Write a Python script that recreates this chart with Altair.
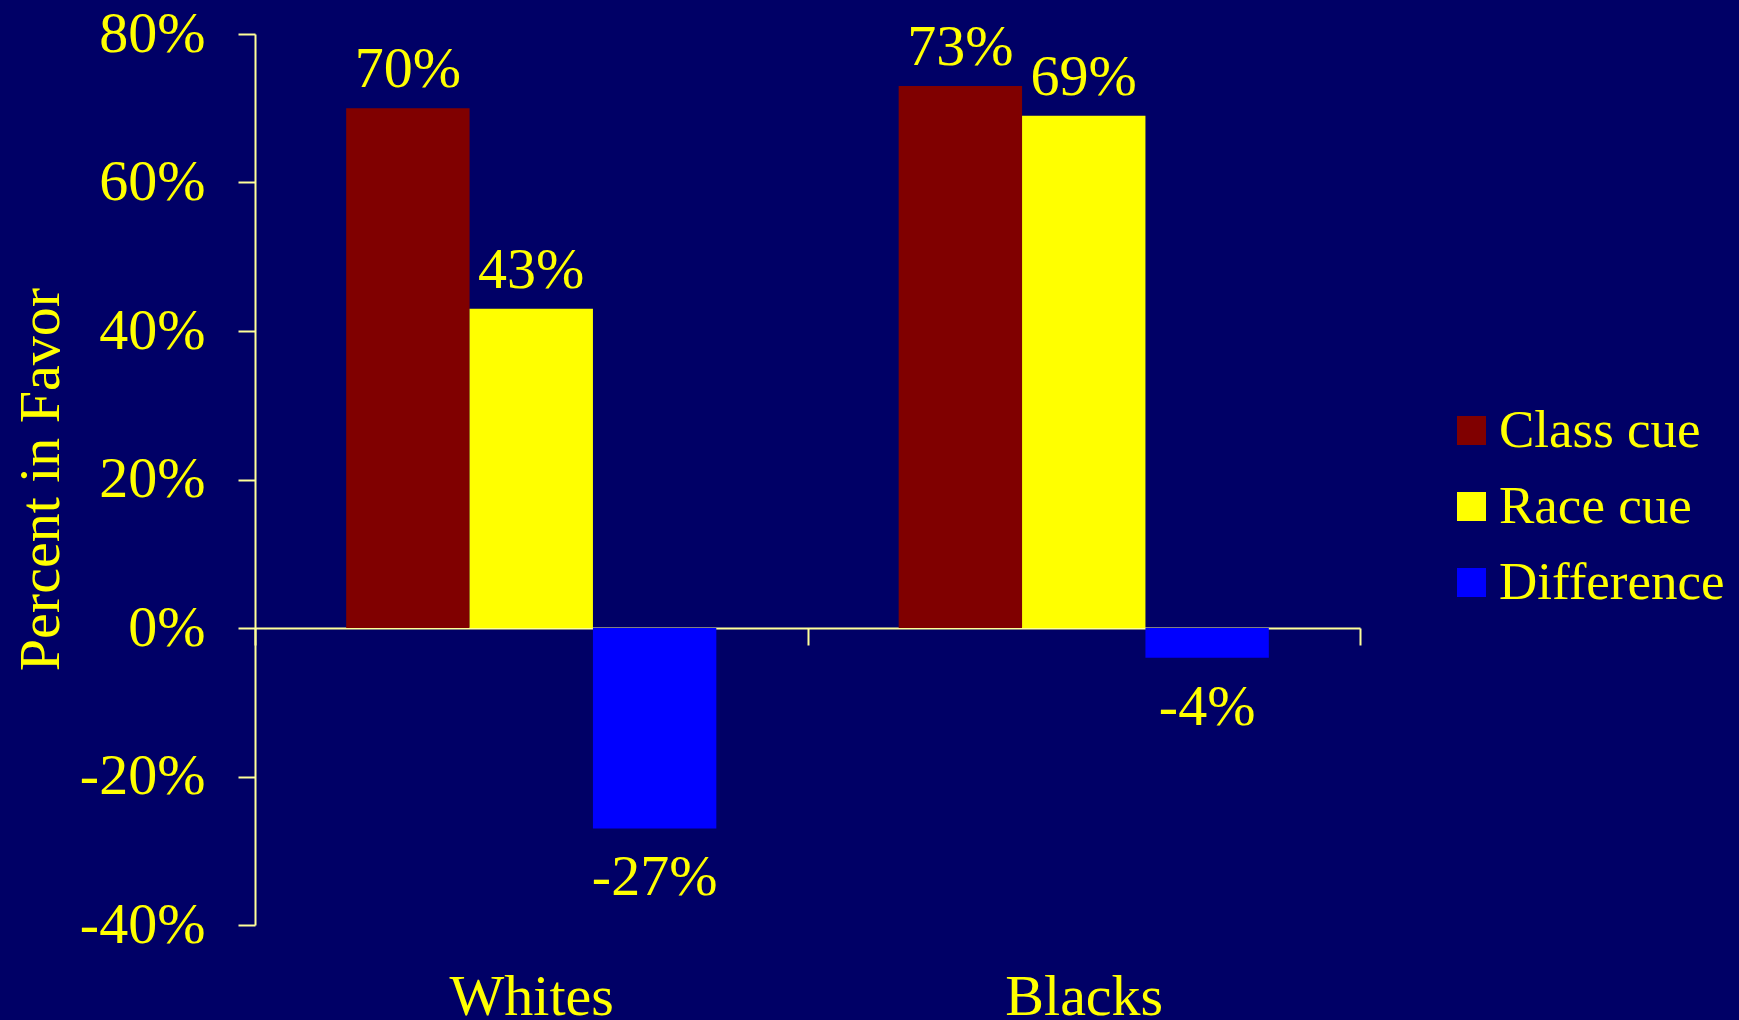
import altair as alt
import pandas as pd

groups = ["Whites", "Whites", "Whites", "Blacks", "Blacks", "Blacks"]
series = ["Class cue", "Race cue", "Difference", "Class cue", "Race cue", "Difference"]
values = [70, 43, -27, 73, 69, -4]

group_order = ["Whites", "Blacks"]
series_order = ["Class cue", "Race cue", "Difference"]
series_colors = ["#800000", "#FFFF00", "#0000FF"]
y_ticks = [-40, -20, 0, 20, 40, 60, 80]

df = pd.DataFrame({"group": groups, "series": series, "value": values})
df["label"] = df["value"].astype(str) + "%"

FONT = "Liberation Serif"
YEL = "#FFFF00"
AXC = "#FFFF99"

x_enc = alt.X(
    "group:N",
    sort=group_order,
    scale=alt.Scale(paddingInner=0, paddingOuter=0),
    axis=alt.Axis(
        title=None,
        orient="bottom",
        offset=-297,
        domainColor=AXC,
        domainWidth=2,
        tickColor=AXC,
        tickWidth=2,
        tickSize=17,
        tickBand="extent",
        labelColor=YEL,
        labelFont=FONT,
        labelFontSize=58,
        labelBaseline="alphabetic",
        labelPadding=369,
        labelAngle=0,
    ),
)
xo_enc = alt.XOffset(
    "series:N", sort=series_order,
    scale=alt.Scale(paddingInner=0, paddingOuter=0.739),
)
y_enc = alt.Y(
    "value:Q",
    scale=alt.Scale(domain=[-40, 80], nice=False, zero=True),
    axis=alt.Axis(
        values=y_ticks,
        labelExpr="datum.value + '%'",
        grid=False,
        domainColor=AXC,
        domainWidth=2,
        tickColor=AXC,
        tickWidth=2,
        tickSize=17,
        labelColor=YEL,
        labelFont=FONT,
        labelFontSize=58,
        labelPadding=33,
        title="Percent in Favor",
        titleColor=YEL,
        titleFont=FONT,
        titleFontSize=58,
        titleFontWeight="normal",
        titleX=-214,
        titleY=445,
        titleAngle=270,
        titleAlign="center",
        titleBaseline="middle",
    ),
)
color_enc = alt.Color(
    "series:N",
    sort=series_order,
    scale=alt.Scale(domain=series_order, range=series_colors),
    legend=alt.Legend(
        title=None,
        orient="none",
        legendX=1190,
        legendY=370,
        symbolType="square",
        symbolSize=841,
        symbolStrokeWidth=0,
        symbolOpacity=1,
        labelColor=YEL,
        labelFont=FONT,
        labelFontSize=53,
        labelOffset=1,
        rowPadding=22,
        padding=0,
        labelLimit=400,
    ),
)

base = alt.Chart(df)

bars = base.mark_bar().encode(
    x=x_enc, xOffset=xo_enc, y=y_enc, color=color_enc
)

pos_text = (
    base.transform_filter("datum.value > 0")
    .mark_text(dy=-38, baseline="middle", font=FONT, fontSize=58, color=YEL)
    .encode(x=x_enc, xOffset=xo_enc, y=y_enc, text="label:N")
)
neg_text = (
    base.transform_filter("datum.value < 0")
    .mark_text(dy=50, baseline="middle", font=FONT, fontSize=58, color=YEL)
    .encode(x=x_enc, xOffset=xo_enc, y=y_enc, text="label:N")
)

chart = (
    alt.layer(bars, pos_text, neg_text)
    .properties(
        width=1105,
        height=891,
        autosize=alt.AutoSizeParams(type="none"),
        padding={"left": 255, "top": 34, "right": 379, "bottom": 95},
        background="#000066",
    )
    .configure_view(stroke=None)
)

chart.save("out.html", embed_options={"renderer": "svg", "actions": False})
